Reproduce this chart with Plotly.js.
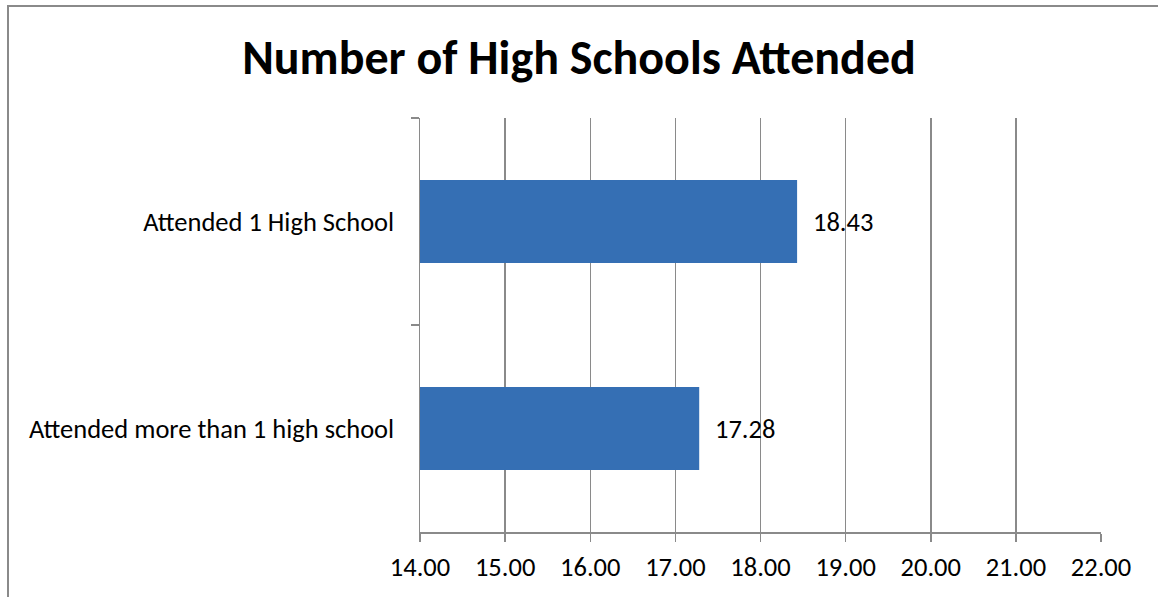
<!DOCTYPE html>
<html>
<head>
<meta charset="utf-8">
<script src="https://cdn.plot.ly/plotly-3.0.1.min.js"></script>
<style>
  html, body { margin: 0; padding: 0; background: #ffffff; }
  #wrap { position: relative; width: 1158px; height: 597px; overflow: hidden; }
  #frame { position: absolute; left: 7px; top: 5px; width: 1160px; height: 600px;
           border-left: 2px solid #8a8a8a; border-top: 2px solid #8a8a8a; box-sizing: border-box; pointer-events: none; }
  #chart { position: absolute; left: 0; top: 0; width: 1158px; height: 597px; }
</style>
</head>
<body>
<div id="wrap">
  <div id="chart"></div>
  <div id="frame"></div>
</div>
<script>
// Average values per group
const categories = ["Attended 1 High School", "Attended more than 1 high school"];
const values = [18.43, 17.28];
const valueLabels = ["18.43", "17.28"];
const xTicks = [14, 15, 16, 17, 18, 19, 20, 21, 22];

const FONT = "Carlito, Lato, 'Liberation Sans', sans-serif";
const GRID = "#8a8a8a";

const trace = {
  type: "bar",
  orientation: "h",
  y: categories,
  x: values,
  width: 0.4,
  marker: { color: "#356fb4", line: { width: 0 } },
  hoverinfo: "skip"
};

const annotations = categories.map((c, i) => ({
  x: values[i], y: c, xref: "x", yref: "y",
  text: valueLabels[i], showarrow: false,
  xanchor: "left", yanchor: "middle", xshift: 14,
  font: { family: FONT, size: 26.5, color: "#000000" }
}));

const layout = {
  width: 1158, height: 597,
  margin: { l: 420, r: 57, t: 118, b: 65 },
  paper_bgcolor: "#ffffff", plot_bgcolor: "#ffffff",
  title: {
    text: "<b>Number of High Schools Attended</b>",
    font: { family: FONT, size: 48, color: "#000000" },
    x: 0.5, xref: "container", xanchor: "center",
    y: 0.905, yref: "container", yanchor: "middle"
  },
  xaxis: {
    range: [14, 22], tickvals: xTicks, tickformat: ".2f",
    showgrid: true, gridcolor: GRID, gridwidth: 1.5,
    showline: true, linecolor: GRID, linewidth: 1.5,
    ticks: "outside", ticklen: 8, tickcolor: GRID, tickwidth: 1.5,
    ticklabelstandoff: 3,
    tickfont: { family: FONT, size: 26.5, color: "#000000" },
    zeroline: false, fixedrange: true
  },
  yaxis: {
    type: "category", autorange: "reversed",
    tickson: "boundaries",
    showgrid: false,
    showline: true, linecolor: GRID, linewidth: 1.5,
    ticks: "outside", ticklen: 8, tickcolor: GRID, tickwidth: 1.5,
    ticklabelstandoff: 19,
    tickfont: { family: FONT, size: 26.5, color: "#000000" },
    fixedrange: true
  },
  annotations: annotations,
  showlegend: false,
  bargap: 0.6
};

Plotly.newPlot("chart", [trace], layout, { displayModeBar: false, staticPlot: true });
</script>
</body>
</html>
